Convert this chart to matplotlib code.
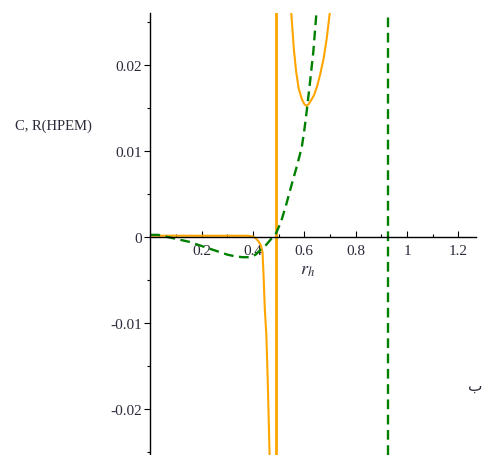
import numpy as np
import matplotlib
matplotlib.use("Agg")
import matplotlib.pyplot as plt
from matplotlib.ticker import MultipleLocator

plt.rcParams['font.family'] = ['Liberation Serif', 'DejaVu Sans']
plt.rcParams['mathtext.fontset'] = 'stix'
plt.rcParams['lines.scale_dashes'] = False

# green dashed curve (R)
r_green = [0.0, 0.03, 0.06, 0.09, 0.12, 0.15, 0.18, 0.21, 0.24, 0.27, 0.30, 0.33,
           0.36, 0.39, 0.41, 0.43, 0.45, 0.47, 0.49, 0.51, 0.53, 0.55, 0.57, 0.59,
           0.60, 0.61, 0.62, 0.635, 0.647]
y_green = [0.0002, 0.0002, 0.0000, -0.0002, -0.0004, -0.0006, -0.0009, -0.0012,
           -0.0015, -0.0018, -0.0021, -0.0023, -0.0024, -0.0024, -0.0021, -0.0015,
           -0.0010, -0.0003, 0.0004, 0.0018, 0.0038, 0.0060, 0.0081, 0.0104,
           0.0124, 0.0148, 0.0174, 0.0215, 0.0260]
green_asym = 0.926

# orange solid curve (C), two branches
r_orange1 = [0.0, 0.1, 0.2, 0.3, 0.38, 0.40, 0.41, 0.42, 0.43, 0.437, 0.441,
             0.446, 0.452, 0.457, 0.461, 0.465]
y_orange1 = [0.0001, 0.0001, 0.0001, 0.0001, 0.0001, 0.0000, -0.0002, -0.0005,
             -0.0010, -0.0018, -0.0045, -0.0085, -0.0115, -0.0165, -0.0212, -0.0260]
r_orange2 = [0.549, 0.559, 0.568, 0.578, 0.59, 0.600, 0.608, 0.617, 0.625, 0.637,
             0.649, 0.662, 0.675, 0.687, 0.699]
y_orange2 = [0.0260, 0.0218, 0.0192, 0.0172, 0.0160, 0.0154, 0.0152, 0.0154,
             0.0158, 0.0164, 0.0174, 0.0189, 0.0207, 0.0230, 0.0260]
orange_asym = 0.49

xticks = [0.2, 0.4, 0.6, 0.8, 1.0, 1.2]
xlabels = ['0.2', '0.4', '0.6', '0.8', '1', '1.2']
yticks = [-0.02, -0.01, 0.0, 0.01, 0.02]
ylabels = ['-0.02', '-0.01', '0', '0.01', '0.02']

orange = '#FFA500'
green = '#008000'
txt = '#2a2a3a'

fig = plt.figure(figsize=(4.82, 4.56), dpi=100)
ax = fig.add_axes([150.4 / 482, 0.0, 325.1 / 482, 1 - 14 / 456])

ax.plot(r_orange1, y_orange1, color=orange, lw=1.5)
ax.plot(r_orange2, y_orange2, color=orange, lw=1.5)
ax.axvline(orange_asym, color=orange, lw=2.0)
ax.plot(r_green, y_green, color=green, lw=1.7, dashes=(7, 4))
ax.axvline(green_asym, color=green, lw=1.7, dashes=(7, 4))

ax.set_xlim(0, 1.267)
ax.set_ylim(-0.0254, 0.026)

for s in ['top', 'right']:
    ax.spines[s].set_visible(False)
ax.spines['left'].set_position(('data', 0))
ax.spines['bottom'].set_position(('data', 0))
ax.spines['left'].set_linewidth(1.0)
ax.spines['bottom'].set_linewidth(1.0)

ax.set_xticks(xticks)
ax.set_xticklabels(xlabels)
ax.xaxis.set_minor_locator(MultipleLocator(0.1))
ax.set_yticks(yticks)
ax.set_yticklabels(ylabels)
ax.yaxis.set_minor_locator(MultipleLocator(0.005))
ax.tick_params(axis='x', which='major', direction='in', length=4, width=0.8,
               pad=5, labelsize=11, labelcolor=txt)
ax.tick_params(axis='x', which='minor', direction='in', length=2.5, width=0.8)
ax.tick_params(axis='y', which='major', direction='out', length=4, width=0.8,
               pad=2, labelsize=11, labelcolor=txt)
ax.tick_params(axis='y', which='minor', direction='out', length=2.5, width=0.8)

fig.text(15 / 482, 1 - 126 / 456, 'C, R(HPEM)', fontsize=10.5, color=txt,
         ha='left', va='center')
fig.text(308 / 482, 1 - 271 / 456, r'$r_h$', fontsize=13, color=txt,
         ha='center', va='center')
fig.text(468 / 482, 1 - 386 / 456, 'ب', fontsize=11, color=txt,
         family=['DejaVu Sans'], ha='left', va='center')

fig.savefig('out.png', dpi=100)
